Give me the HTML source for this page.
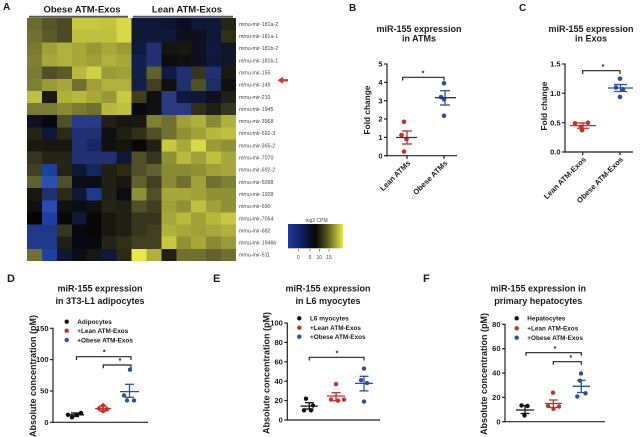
<!DOCTYPE html>
<html><head><meta charset="utf-8"><style>
html,body{margin:0;padding:0;background:#fff;}
svg{display:block;font-family:"Liberation Sans",Arial,sans-serif;}
.t{font-weight:bold;fill:#1a1a1a;}
</style></head><body>
<svg width="640" height="437" viewBox="0 0 640 437" xmlns="http://www.w3.org/2000/svg">
<defs>
<linearGradient id="cb" x1="0" x2="1" y1="0" y2="0">
<stop offset="0" stop-color="#1e3c9c"/><stop offset="0.28" stop-color="#0f1c55"/><stop offset="0.5" stop-color="#050505"/><stop offset="0.72" stop-color="#5a5a22"/><stop offset="1" stop-color="#e8e842"/>
</linearGradient>
</defs>
<!-- Panel A -->
<text x="3" y="10" class="t" font-size="10">A</text>
<text x="82" y="12.5" class="t" font-size="9.5" text-anchor="middle">Obese ATM-Exos</text>
<text x="187" y="12.5" class="t" font-size="9.5" text-anchor="middle">Lean ATM-Exos</text>
<line x1="29" y1="16.7" x2="128" y2="16.7" stroke="#555" stroke-width="2"/>
<line x1="133" y1="16.7" x2="233" y2="16.7" stroke="#556" stroke-width="2"/>
<svg x="27" y="18" width="209" height="243" viewBox="0 0 14 20" preserveAspectRatio="none" shape-rendering="crispEdges">
<g transform="translate(0,0)"><rect x="0" width="1.02" height="1.02" fill="#6b6b30"/><rect x="1" width="1.02" height="1.02" fill="#55552a"/><rect x="2" width="1.02" height="1.02" fill="#4a4a25"/><rect x="3" width="1.02" height="1.02" fill="#c8c840"/><rect x="4" width="1.02" height="1.02" fill="#c8c840"/><rect x="5" width="1.02" height="1.02" fill="#c4c440"/><rect x="6" width="1.02" height="1.02" fill="#d8d848"/><rect x="7" width="1.02" height="1.02" fill="#101838"/><rect x="8" width="1.02" height="1.02" fill="#101838"/><rect x="9" width="1.02" height="1.02" fill="#0e1430"/><rect x="10" width="1.02" height="1.02" fill="#0c0c20"/><rect x="11" width="1.02" height="1.02" fill="#101838"/><rect x="12" width="1.02" height="1.02" fill="#101838"/><rect x="13" width="1.02" height="1.02" fill="#252515"/></g>
<g transform="translate(0,1)"><rect x="0" width="1.02" height="1.02" fill="#707030"/><rect x="1" width="1.02" height="1.02" fill="#5a5a2a"/><rect x="2" width="1.02" height="1.02" fill="#4a4a25"/><rect x="3" width="1.02" height="1.02" fill="#c0c040"/><rect x="4" width="1.02" height="1.02" fill="#c0c040"/><rect x="5" width="1.02" height="1.02" fill="#c0c040"/><rect x="6" width="1.02" height="1.02" fill="#d8d848"/><rect x="7" width="1.02" height="1.02" fill="#101838"/><rect x="8" width="1.02" height="1.02" fill="#101838"/><rect x="9" width="1.02" height="1.02" fill="#101838"/><rect x="10" width="1.02" height="1.02" fill="#0e1020"/><rect x="11" width="1.02" height="1.02" fill="#101020"/><rect x="12" width="1.02" height="1.02" fill="#101838"/><rect x="13" width="1.02" height="1.02" fill="#303018"/></g>
<g transform="translate(0,2)"><rect x="0" width="1.02" height="1.02" fill="#7a7a35"/><rect x="1" width="1.02" height="1.02" fill="#a0a038"/><rect x="2" width="1.02" height="1.02" fill="#b0b03c"/><rect x="3" width="1.02" height="1.02" fill="#a8a838"/><rect x="4" width="1.02" height="1.02" fill="#989835"/><rect x="5" width="1.02" height="1.02" fill="#a8a83a"/><rect x="6" width="1.02" height="1.02" fill="#9a9a35"/><rect x="7" width="1.02" height="1.02" fill="#101a40"/><rect x="8" width="1.02" height="1.02" fill="#203070"/><rect x="9" width="1.02" height="1.02" fill="#151510"/><rect x="10" width="1.02" height="1.02" fill="#181810"/><rect x="11" width="1.02" height="1.02" fill="#101020"/><rect x="12" width="1.02" height="1.02" fill="#101840"/><rect x="13" width="1.02" height="1.02" fill="#101828"/></g>
<g transform="translate(0,3)"><rect x="0" width="1.02" height="1.02" fill="#808035"/><rect x="1" width="1.02" height="1.02" fill="#a8a83a"/><rect x="2" width="1.02" height="1.02" fill="#b0b03c"/><rect x="3" width="1.02" height="1.02" fill="#a8a83a"/><rect x="4" width="1.02" height="1.02" fill="#a0a038"/><rect x="5" width="1.02" height="1.02" fill="#b0b03c"/><rect x="6" width="1.02" height="1.02" fill="#a8a83a"/><rect x="7" width="1.02" height="1.02" fill="#102050"/><rect x="8" width="1.02" height="1.02" fill="#203070"/><rect x="9" width="1.02" height="1.02" fill="#0c0c0c"/><rect x="10" width="1.02" height="1.02" fill="#101010"/><rect x="11" width="1.02" height="1.02" fill="#101020"/><rect x="12" width="1.02" height="1.02" fill="#101838"/><rect x="13" width="1.02" height="1.02" fill="#101828"/></g>
<g transform="translate(0,4)"><rect x="0" width="1.02" height="1.02" fill="#7a7a35"/><rect x="1" width="1.02" height="1.02" fill="#505028"/><rect x="2" width="1.02" height="1.02" fill="#5a5a2a"/><rect x="3" width="1.02" height="1.02" fill="#b8b83c"/><rect x="4" width="1.02" height="1.02" fill="#d0d045"/><rect x="5" width="1.02" height="1.02" fill="#9a9a38"/><rect x="6" width="1.02" height="1.02" fill="#a0a038"/><rect x="7" width="1.02" height="1.02" fill="#152045"/><rect x="8" width="1.02" height="1.02" fill="#606030"/><rect x="9" width="1.02" height="1.02" fill="#101a48"/><rect x="10" width="1.02" height="1.02" fill="#203070"/><rect x="11" width="1.02" height="1.02" fill="#353520"/><rect x="12" width="1.02" height="1.02" fill="#203070"/><rect x="13" width="1.02" height="1.02" fill="#1a1a10"/></g>
<g transform="translate(0,5)"><rect x="0" width="1.02" height="1.02" fill="#808035"/><rect x="1" width="1.02" height="1.02" fill="#9a9a38"/><rect x="2" width="1.02" height="1.02" fill="#a8a83a"/><rect x="3" width="1.02" height="1.02" fill="#707030"/><rect x="4" width="1.02" height="1.02" fill="#a0a038"/><rect x="5" width="1.02" height="1.02" fill="#b0b03c"/><rect x="6" width="1.02" height="1.02" fill="#b0b03c"/><rect x="7" width="1.02" height="1.02" fill="#152048"/><rect x="8" width="1.02" height="1.02" fill="#404020"/><rect x="9" width="1.02" height="1.02" fill="#101010"/><rect x="10" width="1.02" height="1.02" fill="#203068"/><rect x="11" width="1.02" height="1.02" fill="#505028"/><rect x="12" width="1.02" height="1.02" fill="#202d60"/><rect x="13" width="1.02" height="1.02" fill="#101010"/></g>
<g transform="translate(0,6)"><rect x="0" width="1.02" height="1.02" fill="#c0c040"/><rect x="1" width="1.02" height="1.02" fill="#1a1a10"/><rect x="2" width="1.02" height="1.02" fill="#b0b03c"/><rect x="3" width="1.02" height="1.02" fill="#b8b83c"/><rect x="4" width="1.02" height="1.02" fill="#a8a83a"/><rect x="5" width="1.02" height="1.02" fill="#989835"/><rect x="6" width="1.02" height="1.02" fill="#c8c842"/><rect x="7" width="1.02" height="1.02" fill="#404020"/><rect x="8" width="1.02" height="1.02" fill="#101010"/><rect x="9" width="1.02" height="1.02" fill="#2a3a80"/><rect x="10" width="1.02" height="1.02" fill="#101840"/><rect x="11" width="1.02" height="1.02" fill="#101838"/><rect x="12" width="1.02" height="1.02" fill="#101020"/><rect x="13" width="1.02" height="1.02" fill="#202015"/></g>
<g transform="translate(0,7)"><rect x="0" width="1.02" height="1.02" fill="#7a7a35"/><rect x="1" width="1.02" height="1.02" fill="#7a7a35"/><rect x="2" width="1.02" height="1.02" fill="#8a8a35"/><rect x="3" width="1.02" height="1.02" fill="#7a7a35"/><rect x="4" width="1.02" height="1.02" fill="#707030"/><rect x="5" width="1.02" height="1.02" fill="#b8b83c"/><rect x="6" width="1.02" height="1.02" fill="#c0c040"/><rect x="7" width="1.02" height="1.02" fill="#080810"/><rect x="8" width="1.02" height="1.02" fill="#101010"/><rect x="9" width="1.02" height="1.02" fill="#2a3a80"/><rect x="10" width="1.02" height="1.02" fill="#2a3a80"/><rect x="11" width="1.02" height="1.02" fill="#303018"/><rect x="12" width="1.02" height="1.02" fill="#202015"/><rect x="13" width="1.02" height="1.02" fill="#353520"/></g>
<g transform="translate(0,8)"><rect x="0" width="1.02" height="1.02" fill="#101020"/><rect x="1" width="1.02" height="1.02" fill="#080810"/><rect x="2" width="1.02" height="1.02" fill="#505028"/><rect x="3" width="1.02" height="1.02" fill="#2a3a88"/><rect x="4" width="1.02" height="1.02" fill="#2a3a88"/><rect x="5" width="1.02" height="1.02" fill="#202015"/><rect x="6" width="1.02" height="1.02" fill="#181810"/><rect x="7" width="1.02" height="1.02" fill="#181810"/><rect x="8" width="1.02" height="1.02" fill="#808035"/><rect x="9" width="1.02" height="1.02" fill="#707030"/><rect x="10" width="1.02" height="1.02" fill="#a0a038"/><rect x="11" width="1.02" height="1.02" fill="#b0b03c"/><rect x="12" width="1.02" height="1.02" fill="#8a8a35"/><rect x="13" width="1.02" height="1.02" fill="#b0b03c"/></g>
<g transform="translate(0,9)"><rect x="0" width="1.02" height="1.02" fill="#252515"/><rect x="1" width="1.02" height="1.02" fill="#101838"/><rect x="2" width="1.02" height="1.02" fill="#2a2a15"/><rect x="3" width="1.02" height="1.02" fill="#203078"/><rect x="4" width="1.02" height="1.02" fill="#203070"/><rect x="5" width="1.02" height="1.02" fill="#101010"/><rect x="6" width="1.02" height="1.02" fill="#202015"/><rect x="7" width="1.02" height="1.02" fill="#303018"/><rect x="8" width="1.02" height="1.02" fill="#505028"/><rect x="9" width="1.02" height="1.02" fill="#707030"/><rect x="10" width="1.02" height="1.02" fill="#909035"/><rect x="11" width="1.02" height="1.02" fill="#a0a038"/><rect x="12" width="1.02" height="1.02" fill="#b8b83c"/><rect x="13" width="1.02" height="1.02" fill="#c0c040"/></g>
<g transform="translate(0,10)"><rect x="0" width="1.02" height="1.02" fill="#1a1a10"/><rect x="1" width="1.02" height="1.02" fill="#181810"/><rect x="2" width="1.02" height="1.02" fill="#181810"/><rect x="3" width="1.02" height="1.02" fill="#203070"/><rect x="4" width="1.02" height="1.02" fill="#182860"/><rect x="5" width="1.02" height="1.02" fill="#101010"/><rect x="6" width="1.02" height="1.02" fill="#151510"/><rect x="7" width="1.02" height="1.02" fill="#080808"/><rect x="8" width="1.02" height="1.02" fill="#202015"/><rect x="9" width="1.02" height="1.02" fill="#c8c840"/><rect x="10" width="1.02" height="1.02" fill="#a8a83a"/><rect x="11" width="1.02" height="1.02" fill="#d8d848"/><rect x="12" width="1.02" height="1.02" fill="#9a9a38"/><rect x="13" width="1.02" height="1.02" fill="#909035"/></g>
<g transform="translate(0,11)"><rect x="0" width="1.02" height="1.02" fill="#353520"/><rect x="1" width="1.02" height="1.02" fill="#252515"/><rect x="2" width="1.02" height="1.02" fill="#252515"/><rect x="3" width="1.02" height="1.02" fill="#203070"/><rect x="4" width="1.02" height="1.02" fill="#203070"/><rect x="5" width="1.02" height="1.02" fill="#203070"/><rect x="6" width="1.02" height="1.02" fill="#101838"/><rect x="7" width="1.02" height="1.02" fill="#505028"/><rect x="8" width="1.02" height="1.02" fill="#353520"/><rect x="9" width="1.02" height="1.02" fill="#909035"/><rect x="10" width="1.02" height="1.02" fill="#b8b83c"/><rect x="11" width="1.02" height="1.02" fill="#a0a038"/><rect x="12" width="1.02" height="1.02" fill="#c0c040"/><rect x="13" width="1.02" height="1.02" fill="#a8a83a"/></g>
<g transform="translate(0,12)"><rect x="0" width="1.02" height="1.02" fill="#404020"/><rect x="1" width="1.02" height="1.02" fill="#2040a0"/><rect x="2" width="1.02" height="1.02" fill="#252515"/><rect x="3" width="1.02" height="1.02" fill="#101838"/><rect x="4" width="1.02" height="1.02" fill="#152560"/><rect x="5" width="1.02" height="1.02" fill="#202015"/><rect x="6" width="1.02" height="1.02" fill="#2a2a15"/><rect x="7" width="1.02" height="1.02" fill="#505028"/><rect x="8" width="1.02" height="1.02" fill="#606030"/><rect x="9" width="1.02" height="1.02" fill="#8a8a35"/><rect x="10" width="1.02" height="1.02" fill="#8a8a35"/><rect x="11" width="1.02" height="1.02" fill="#909035"/><rect x="12" width="1.02" height="1.02" fill="#a0a038"/><rect x="13" width="1.02" height="1.02" fill="#a8a83a"/></g>
<g transform="translate(0,13)"><rect x="0" width="1.02" height="1.02" fill="#606030"/><rect x="1" width="1.02" height="1.02" fill="#2a50b0"/><rect x="2" width="1.02" height="1.02" fill="#505028"/><rect x="3" width="1.02" height="1.02" fill="#0c0c14"/><rect x="4" width="1.02" height="1.02" fill="#0c0c14"/><rect x="5" width="1.02" height="1.02" fill="#202015"/><rect x="6" width="1.02" height="1.02" fill="#181810"/><rect x="7" width="1.02" height="1.02" fill="#606030"/><rect x="8" width="1.02" height="1.02" fill="#404020"/><rect x="9" width="1.02" height="1.02" fill="#8a8a35"/><rect x="10" width="1.02" height="1.02" fill="#707030"/><rect x="11" width="1.02" height="1.02" fill="#a0a038"/><rect x="12" width="1.02" height="1.02" fill="#707030"/><rect x="13" width="1.02" height="1.02" fill="#808035"/></g>
<g transform="translate(0,14)"><rect x="0" width="1.02" height="1.02" fill="#181810"/><rect x="1" width="1.02" height="1.02" fill="#203070"/><rect x="2" width="1.02" height="1.02" fill="#2a2a15"/><rect x="3" width="1.02" height="1.02" fill="#101838"/><rect x="4" width="1.02" height="1.02" fill="#203888"/><rect x="5" width="1.02" height="1.02" fill="#202015"/><rect x="6" width="1.02" height="1.02" fill="#0c0c14"/><rect x="7" width="1.02" height="1.02" fill="#909035"/><rect x="8" width="1.02" height="1.02" fill="#505028"/><rect x="9" width="1.02" height="1.02" fill="#a8a83a"/><rect x="10" width="1.02" height="1.02" fill="#a8a83a"/><rect x="11" width="1.02" height="1.02" fill="#a0a038"/><rect x="12" width="1.02" height="1.02" fill="#909035"/><rect x="13" width="1.02" height="1.02" fill="#909035"/></g>
<g transform="translate(0,15)"><rect x="0" width="1.02" height="1.02" fill="#101010"/><rect x="1" width="1.02" height="1.02" fill="#2a4ab0"/><rect x="2" width="1.02" height="1.02" fill="#101010"/><rect x="3" width="1.02" height="1.02" fill="#0c0c14"/><rect x="4" width="1.02" height="1.02" fill="#101010"/><rect x="5" width="1.02" height="1.02" fill="#252515"/><rect x="6" width="1.02" height="1.02" fill="#202015"/><rect x="7" width="1.02" height="1.02" fill="#505028"/><rect x="8" width="1.02" height="1.02" fill="#404020"/><rect x="9" width="1.02" height="1.02" fill="#a0a038"/><rect x="10" width="1.02" height="1.02" fill="#909035"/><rect x="11" width="1.02" height="1.02" fill="#c0c040"/><rect x="12" width="1.02" height="1.02" fill="#a0a038"/><rect x="13" width="1.02" height="1.02" fill="#909035"/></g>
<g transform="translate(0,16)"><rect x="0" width="1.02" height="1.02" fill="#050505"/><rect x="1" width="1.02" height="1.02" fill="#2040a0"/><rect x="2" width="1.02" height="1.02" fill="#080808"/><rect x="3" width="1.02" height="1.02" fill="#101838"/><rect x="4" width="1.02" height="1.02" fill="#080808"/><rect x="5" width="1.02" height="1.02" fill="#181810"/><rect x="6" width="1.02" height="1.02" fill="#202015"/><rect x="7" width="1.02" height="1.02" fill="#353520"/><rect x="8" width="1.02" height="1.02" fill="#353520"/><rect x="9" width="1.02" height="1.02" fill="#a8a83a"/><rect x="10" width="1.02" height="1.02" fill="#b8b83c"/><rect x="11" width="1.02" height="1.02" fill="#a0a038"/><rect x="12" width="1.02" height="1.02" fill="#b8b83c"/><rect x="13" width="1.02" height="1.02" fill="#c8c842"/></g>
<g transform="translate(0,17)"><rect x="0" width="1.02" height="1.02" fill="#203888"/><rect x="1" width="1.02" height="1.02" fill="#203888"/><rect x="2" width="1.02" height="1.02" fill="#353520"/><rect x="3" width="1.02" height="1.02" fill="#080810"/><rect x="4" width="1.02" height="1.02" fill="#080808"/><rect x="5" width="1.02" height="1.02" fill="#181810"/><rect x="6" width="1.02" height="1.02" fill="#202015"/><rect x="7" width="1.02" height="1.02" fill="#353520"/><rect x="8" width="1.02" height="1.02" fill="#404020"/><rect x="9" width="1.02" height="1.02" fill="#b0b03c"/><rect x="10" width="1.02" height="1.02" fill="#a8a83a"/><rect x="11" width="1.02" height="1.02" fill="#a0a038"/><rect x="12" width="1.02" height="1.02" fill="#a8a83a"/><rect x="13" width="1.02" height="1.02" fill="#b0b03c"/></g>
<g transform="translate(0,18)"><rect x="0" width="1.02" height="1.02" fill="#203888"/><rect x="1" width="1.02" height="1.02" fill="#203888"/><rect x="2" width="1.02" height="1.02" fill="#202015"/><rect x="3" width="1.02" height="1.02" fill="#080810"/><rect x="4" width="1.02" height="1.02" fill="#080810"/><rect x="5" width="1.02" height="1.02" fill="#252515"/><rect x="6" width="1.02" height="1.02" fill="#303018"/><rect x="7" width="1.02" height="1.02" fill="#404020"/><rect x="8" width="1.02" height="1.02" fill="#404020"/><rect x="9" width="1.02" height="1.02" fill="#c8c840"/><rect x="10" width="1.02" height="1.02" fill="#909035"/><rect x="11" width="1.02" height="1.02" fill="#a8a83a"/><rect x="12" width="1.02" height="1.02" fill="#8a8a35"/><rect x="13" width="1.02" height="1.02" fill="#9a9a38"/></g>
<g transform="translate(0,19)"><rect x="0" width="1.02" height="1.02" fill="#707030"/><rect x="1" width="1.02" height="1.02" fill="#2040a0"/><rect x="2" width="1.02" height="1.02" fill="#101838"/><rect x="3" width="1.02" height="1.02" fill="#0c0c14"/><rect x="4" width="1.02" height="1.02" fill="#181810"/><rect x="5" width="1.02" height="1.02" fill="#101838"/><rect x="6" width="1.02" height="1.02" fill="#2a2a15"/><rect x="7" width="1.02" height="1.02" fill="#e8e848"/><rect x="8" width="1.02" height="1.02" fill="#b0b03c"/><rect x="9" width="1.02" height="1.02" fill="#202015"/><rect x="10" width="1.02" height="1.02" fill="#707030"/><rect x="11" width="1.02" height="1.02" fill="#707030"/><rect x="12" width="1.02" height="1.02" fill="#606030"/><rect x="13" width="1.02" height="1.02" fill="#707030"/></g>
</svg>
<g font-size="5.3" fill="#444">
<text x="239" y="25.9">mmu-mir-181a-2</text>
<text x="239" y="38.0">mmu-mir-181a-1</text>
<text x="239" y="50.2">mmu-mir-181b-2</text>
<text x="239" y="62.3">mmu-mir-181b-1</text>
<text x="239" y="74.5">mmu-mir-155</text>
<text x="239" y="86.6">mmu-mir-149</text>
<text x="239" y="98.8">mmu-mir-210</text>
<text x="239" y="110.9">mmu-mir-1945</text>
<text x="239" y="123.1">mmu-mir-3968</text>
<text x="239" y="135.2">mmu-mir-692-3</text>
<text x="239" y="147.4">mmu-mir-365-2</text>
<text x="239" y="159.5">mmu-mir-7070</text>
<text x="239" y="171.7">mmu-mir-692-2</text>
<text x="239" y="183.8">mmu-mir-5098</text>
<text x="239" y="196.0">mmu-mir-1928</text>
<text x="239" y="208.1">mmu-mir-690</text>
<text x="239" y="220.3">mmu-mir-7054</text>
<text x="239" y="232.4">mmu-mir-682</text>
<text x="239" y="244.6">mmu-mir-1946b</text>
<text x="239" y="256.7">mmu-mir-511</text>
</g>
<polygon points="277.5,80.3 283,76.8 283,83.8" fill="#d63a30"/>
<rect x="282.5" y="79.1" width="5.5" height="2.4" fill="#d63a30"/>
<!-- colorbar -->
<rect x="288" y="224" width="55" height="24.3" fill="url(#cb)"/>
<text x="316.7" y="222" font-size="5" fill="#444" text-anchor="middle">log2 CPM</text>
<g stroke="#444" stroke-width="0.6"><line x1="298.3" y1="249" x2="298.3" y2="251.5"/><line x1="310" y1="249" x2="310" y2="251.5"/><line x1="319.3" y1="249" x2="319.3" y2="251.5"/><line x1="329" y1="249" x2="329" y2="251.5"/></g>
<g font-size="5" fill="#444" text-anchor="middle"><text x="298.3" y="259">0</text><text x="310" y="259">5</text><text x="319.3" y="259">10</text><text x="329" y="259">15</text></g>

<!-- Panel B -->
<text x="349" y="11" class="t" font-size="10">B</text>
<text x="419" y="32" class="t" font-size="9" text-anchor="middle">miR-155 expression</text>
<text x="419" y="41.5" class="t" font-size="9" text-anchor="middle">in ATMs</text>
<g stroke="#222" stroke-width="1.2" fill="none">
<line x1="387" y1="63.5" x2="387" y2="156.3"/><line x1="386.4" y1="155.7" x2="457" y2="155.7"/>
<line x1="384" y1="64" x2="387" y2="64"/><line x1="384" y1="82.4" x2="387" y2="82.4"/><line x1="384" y1="100.7" x2="387" y2="100.7"/><line x1="384" y1="119" x2="387" y2="119"/><line x1="384" y1="137.4" x2="387" y2="137.4"/><line x1="384" y1="155.7" x2="387" y2="155.7"/>
<line x1="407" y1="155.7" x2="407" y2="159"/><line x1="444" y1="155.7" x2="444" y2="159"/>
<polyline points="402.7,80.5 402.7,77.3 444,77.3 444,80.5"/>
</g>
<g class="t" font-size="7.5" text-anchor="end"><text x="382.5" y="66.6">5</text><text x="382.5" y="85">4</text><text x="382.5" y="103.3">3</text><text x="382.5" y="121.6">2</text><text x="382.5" y="140">1</text><text x="382.5" y="158.3">0</text></g>
<text class="t" font-size="8.3" text-anchor="middle" transform="translate(370,110) rotate(-90)">Fold change</text>
<text x="423" y="75.5" class="t" font-size="7" text-anchor="middle">*</text>
<text class="t" font-size="7.6" text-anchor="end" transform="translate(411,163.5) rotate(-45)">Lean ATMs</text>
<text class="t" font-size="7.6" text-anchor="end" transform="translate(448,163.5) rotate(-45)">Obese ATMs</text>
<g fill="#c4302b"><circle cx="404" cy="121.8" r="2.3"/><circle cx="401.5" cy="135" r="2.3"/><circle cx="406.5" cy="139" r="2.3"/><circle cx="404" cy="151.5" r="2.3"/></g>
<g stroke="#c4302b" stroke-width="1.3"><line x1="407" y1="131" x2="407" y2="144"/><line x1="402" y1="131" x2="412" y2="131"/><line x1="402" y1="144" x2="412" y2="144"/></g>
<line x1="396" y1="137.5" x2="417" y2="137.5" stroke="#333" stroke-width="1.3"/>
<g fill="#2d4f9c"><circle cx="444" cy="83.3" r="2.3"/><circle cx="444" cy="99.3" r="2.3"/><circle cx="441" cy="97" r="2.3"/><circle cx="444" cy="115.7" r="2.3"/></g>
<g stroke="#2d4f9c" stroke-width="1.3"><line x1="445" y1="90.7" x2="445" y2="105"/><line x1="440" y1="90.7" x2="450" y2="90.7"/><line x1="440" y1="105" x2="450" y2="105"/></g>
<line x1="435" y1="97.7" x2="456" y2="97.7" stroke="#2a3558" stroke-width="1.3"/>

<!-- Panel C -->
<text x="519" y="11" class="t" font-size="10">C</text>
<text x="591" y="32" class="t" font-size="9" text-anchor="middle">miR-155 expression</text>
<text x="591" y="41.5" class="t" font-size="9" text-anchor="middle">in Exos</text>
<g stroke="#222" stroke-width="1.2" fill="none">
<line x1="565" y1="63.5" x2="565" y2="152.6"/><line x1="564.4" y1="152" x2="633" y2="152"/>
<line x1="562" y1="64" x2="565" y2="64"/><line x1="562" y1="93.3" x2="565" y2="93.3"/><line x1="562" y1="122.7" x2="565" y2="122.7"/><line x1="562" y1="152" x2="565" y2="152"/>
<line x1="582.7" y1="152" x2="582.7" y2="155.3"/><line x1="620" y1="152" x2="620" y2="155.3"/>
<polyline points="582.7,74 582.7,70.7 620,70.7 620,74"/>
</g>
<g class="t" font-size="7.5" text-anchor="end"><text x="560.5" y="66.6">1.5</text><text x="560.5" y="95.9">1.0</text><text x="560.5" y="125.3">0.5</text><text x="560.5" y="154.6">0.0</text></g>
<text class="t" font-size="8.3" text-anchor="middle" transform="translate(547,106) rotate(-90)">Fold change</text>
<text x="603" y="69" class="t" font-size="7" text-anchor="middle">*</text>
<text class="t" font-size="7.6" text-anchor="end" transform="translate(586.5,160) rotate(-45)">Lean ATM-Exos</text>
<text class="t" font-size="7.6" text-anchor="end" transform="translate(623.5,160) rotate(-45)">Obese ATM-Exos</text>
<g fill="#c4302b"><circle cx="575" cy="123.3" r="2.3"/><circle cx="581" cy="126.8" r="2.3"/><circle cx="588" cy="122.7" r="2.3"/><circle cx="582" cy="130.3" r="2.3"/></g>
<g stroke="#c4302b" stroke-width="1.3"><line x1="570" y1="125.6" x2="596" y2="125.6"/><line x1="583" y1="123" x2="583" y2="128.3"/><line x1="577" y1="123" x2="589" y2="123"/><line x1="577" y1="128.3" x2="589" y2="128.3"/></g>
<g fill="#2d4f9c"><circle cx="620" cy="78.7" r="2.3"/><circle cx="616" cy="87.5" r="2.3"/><circle cx="623" cy="89.2" r="2.3"/><circle cx="620" cy="96.9" r="2.3"/></g>
<g stroke="#2d4f9c" stroke-width="1.3"><line x1="608" y1="88" x2="633" y2="88"/><line x1="620.5" y1="84.5" x2="620.5" y2="91.5"/><line x1="614" y1="84.5" x2="627" y2="84.5"/><line x1="614" y1="91.5" x2="627" y2="91.5"/></g>

<!-- Panel D -->
<text x="7" y="282" class="t" font-size="11">D</text>
<text x="100" y="291.5" class="t" font-size="9" text-anchor="middle">miR-155 expression</text>
<text x="100" y="304" class="t" font-size="9" text-anchor="middle">in 3T3-L1 adipocytes</text>
<g stroke="#222" stroke-width="1.2" fill="none">
<line x1="53" y1="327.8" x2="53" y2="422.9"/><line x1="52.4" y1="422.3" x2="148" y2="422.3"/>
<line x1="50" y1="328.3" x2="53" y2="328.3"/><line x1="50" y1="359.6" x2="53" y2="359.6"/><line x1="50" y1="391" x2="53" y2="391"/><line x1="50" y1="422.3" x2="53" y2="422.3"/>
<polyline points="76.5,360 76.5,356.7 131,356.7 131,360"/>
<polyline points="103.3,368.3 103.3,365 131,365 131,368.3"/>
</g>
<g class="t" font-size="7.5" text-anchor="end"><text x="48.5" y="330.9">150</text><text x="48.5" y="362.2">100</text><text x="48.5" y="393.6">50</text><text x="48.5" y="424.9">0</text></g>
<text class="t" font-size="9" text-anchor="middle" transform="translate(36,376) rotate(-90)">Absolute concentration (pM)</text>
<text x="104.3" y="354.5" class="t" font-size="7" text-anchor="middle">*</text>
<text x="120" y="363.2" class="t" font-size="7" text-anchor="middle">*</text>
<circle cx="66.7" cy="321.7" r="2.2" fill="#111"/><circle cx="66.7" cy="330.7" r="2.2" fill="#c4302b"/><circle cx="66.7" cy="340" r="2.2" fill="#2d4f9c"/>
<g class="t" font-size="6.4"><text x="77.3" y="324">Adipocytes</text><text x="77.3" y="333">+Lean ATM-Exos</text><text x="77.3" y="342.3">+Obese ATM-Exos</text></g>
<g fill="#111"><circle cx="68" cy="414.8" r="2.2"/><circle cx="72" cy="417.3" r="2.2"/><circle cx="77" cy="414.8" r="2.2"/><circle cx="81" cy="412.9" r="2.2"/></g>
<g stroke="#111" stroke-width="1.3"><line x1="66" y1="414.8" x2="84" y2="414.8"/><line x1="75" y1="413" x2="75" y2="416.5"/><line x1="71" y1="413" x2="79" y2="413"/><line x1="71" y1="416.5" x2="79" y2="416.5"/></g>
<g fill="#c4302b"><circle cx="103" cy="405.4" r="2.2"/><circle cx="99" cy="408.5" r="2.2"/><circle cx="107" cy="409.2" r="2.2"/><circle cx="103" cy="411" r="2.2"/></g>
<g stroke="#c4302b" stroke-width="1.3"><line x1="95" y1="408.5" x2="111" y2="408.5"/><line x1="103" y1="406" x2="103" y2="411"/><line x1="99" y1="406" x2="107" y2="406"/><line x1="99" y1="411" x2="107" y2="411"/></g>
<g fill="#2d4f9c"><circle cx="130" cy="369.7" r="2.2"/><circle cx="124" cy="395.4" r="2.2"/><circle cx="127" cy="400.4" r="2.2"/><circle cx="134" cy="400.4" r="2.2"/></g>
<g stroke="#2d4f9c" stroke-width="1.3"><line x1="120" y1="391.6" x2="139" y2="391.6"/><line x1="129.5" y1="384.3" x2="129.5" y2="397.3"/><line x1="125" y1="384.3" x2="134" y2="384.3"/><line x1="125" y1="397.3" x2="134" y2="397.3"/></g>

<!-- Panel E -->
<text x="213" y="282" class="t" font-size="11">E</text>
<text x="328" y="291.5" class="t" font-size="9" text-anchor="middle">miR-155 expression</text>
<text x="328" y="304" class="t" font-size="9" text-anchor="middle">in L6 myocytes</text>
<g stroke="#222" stroke-width="1.2" fill="none">
<line x1="287.3" y1="322.8" x2="287.3" y2="420.6"/><line x1="286.7" y1="420" x2="380" y2="420"/>
<line x1="284.3" y1="323" x2="287.3" y2="323"/><line x1="284.3" y1="342.4" x2="287.3" y2="342.4"/><line x1="284.3" y1="361.8" x2="287.3" y2="361.8"/><line x1="284.3" y1="381.2" x2="287.3" y2="381.2"/><line x1="284.3" y1="400.6" x2="287.3" y2="400.6"/><line x1="284.3" y1="420" x2="287.3" y2="420"/>
<polyline points="309.3,360.5 309.3,357.3 364,357.3 364,360.5"/>
</g>
<g class="t" font-size="7.5" text-anchor="end"><text x="282.8" y="325.6">100</text><text x="282.8" y="345">80</text><text x="282.8" y="364.4">60</text><text x="282.8" y="383.8">40</text><text x="282.8" y="403.2">20</text><text x="282.8" y="422.6">0</text></g>
<text class="t" font-size="9" text-anchor="middle" transform="translate(269.5,373) rotate(-90)">Absolute concentration (pM)</text>
<text x="337" y="355.5" class="t" font-size="7" text-anchor="middle">*</text>
<circle cx="299.3" cy="318.3" r="2.2" fill="#111"/><circle cx="299.3" cy="327.7" r="2.2" fill="#c4302b"/><circle cx="299.3" cy="336.7" r="2.2" fill="#2d4f9c"/>
<g class="t" font-size="6.4"><text x="310" y="320.6">L6 myocytes</text><text x="310" y="330">+Lean ATM-Exos</text><text x="310" y="339">+Obese ATM-Exos</text></g>
<g fill="#111"><circle cx="306" cy="398.7" r="2.2"/><circle cx="313" cy="405.5" r="2.2"/><circle cx="304" cy="410.3" r="2.2"/><circle cx="311" cy="410.3" r="2.2"/></g>
<g stroke="#111" stroke-width="1.3"><line x1="300.5" y1="406.1" x2="318" y2="406.1"/><line x1="309.3" y1="402.7" x2="309.3" y2="409"/><line x1="305" y1="402.7" x2="313.6" y2="402.7"/><line x1="305" y1="409" x2="313.6" y2="409"/></g>
<g fill="#c4302b"><circle cx="336" cy="384.1" r="2.2"/><circle cx="331" cy="399.6" r="2.2"/><circle cx="338" cy="400.6" r="2.2"/><circle cx="344" cy="399.6" r="2.2"/></g>
<g stroke="#c4302b" stroke-width="1.3"><line x1="327" y1="396" x2="345" y2="396"/><line x1="336" y1="392.7" x2="336" y2="400.7"/><line x1="331.5" y1="392.7" x2="340.5" y2="392.7"/><line x1="331.5" y1="400.7" x2="340.5" y2="400.7"/></g>
<g fill="#2d4f9c"><circle cx="364" cy="368.6" r="2.2"/><circle cx="361" cy="380.2" r="2.2"/><circle cx="367" cy="383.1" r="2.2"/><circle cx="364" cy="401.6" r="2.2"/></g>
<g stroke="#2d4f9c" stroke-width="1.3"><line x1="355" y1="383.4" x2="373" y2="383.4"/><line x1="364" y1="376.3" x2="364" y2="390.9"/><line x1="359.5" y1="376.3" x2="368.5" y2="376.3"/><line x1="359.5" y1="390.9" x2="368.5" y2="390.9"/></g>

<!-- Panel F -->
<text x="423" y="282" class="t" font-size="11">F</text>
<text x="538.3" y="291.5" class="t" font-size="9" text-anchor="middle">miR-155 expression in</text>
<text x="538.3" y="304" class="t" font-size="9" text-anchor="middle">primary hepatocytes</text>
<g stroke="#222" stroke-width="1.2" fill="none">
<line x1="505" y1="323.8" x2="505" y2="422.3"/><line x1="504.4" y1="421.7" x2="605" y2="421.7"/>
<line x1="502" y1="324.3" x2="505" y2="324.3"/><line x1="502" y1="348.6" x2="505" y2="348.6"/><line x1="502" y1="373" x2="505" y2="373"/><line x1="502" y1="397.3" x2="505" y2="397.3"/><line x1="502" y1="421.7" x2="505" y2="421.7"/>
<polyline points="526,355.8 526,352.7 581.3,352.7 581.3,355.8"/>
<polyline points="553.3,364.8 553.3,361.7 581.3,361.7 581.3,364.8"/>
</g>
<g class="t" font-size="7.5" text-anchor="end"><text x="500.5" y="326.9">80</text><text x="500.5" y="351.2">60</text><text x="500.5" y="375.6">40</text><text x="500.5" y="399.9">20</text><text x="500.5" y="424.3">0</text></g>
<text class="t" font-size="9" text-anchor="middle" transform="translate(487,374) rotate(-90)">Absolute concentration (pM)</text>
<text x="555" y="350.8" class="t" font-size="7" text-anchor="middle">*</text>
<text x="570.7" y="359.8" class="t" font-size="7" text-anchor="middle">*</text>
<circle cx="516.7" cy="318.3" r="2.2" fill="#111"/><circle cx="516.7" cy="328.3" r="2.2" fill="#c4302b"/><circle cx="516.7" cy="337.7" r="2.2" fill="#2d4f9c"/>
<g class="t" font-size="6.4"><text x="527.3" y="320.6">Hepatocytes</text><text x="527.3" y="330.6">+Lean ATM-Exos</text><text x="527.3" y="340">+Obese ATM-Exos</text></g>
<g fill="#111"><circle cx="521.5" cy="405.5" r="2.2"/><circle cx="527.5" cy="406" r="2.2"/><circle cx="524.5" cy="415.5" r="2.2"/></g>
<g stroke="#111" stroke-width="1.3"><line x1="516" y1="410" x2="534" y2="410"/><line x1="525" y1="405.5" x2="525" y2="413.5"/><line x1="520.5" y1="405.5" x2="529.5" y2="405.5"/><line x1="520.5" y1="413.5" x2="529.5" y2="413.5"/></g>
<g fill="#c4302b"><circle cx="553" cy="392.7" r="2.2"/><circle cx="548" cy="405.9" r="2.2"/><circle cx="553.5" cy="408.8" r="2.2"/><circle cx="559" cy="406.5" r="2.2"/></g>
<g stroke="#c4302b" stroke-width="1.3"><line x1="545" y1="403.5" x2="562" y2="403.5"/><line x1="553.3" y1="400" x2="553.3" y2="407.5"/><line x1="549" y1="400" x2="557.6" y2="400"/><line x1="549" y1="407.5" x2="557.6" y2="407.5"/></g>
<g fill="#2d4f9c"><circle cx="581" cy="373.5" r="2.2"/><circle cx="580" cy="380.7" r="2.2"/><circle cx="577.3" cy="396.5" r="2.2"/><circle cx="585.5" cy="393.3" r="2.2"/></g>
<g stroke="#2d4f9c" stroke-width="1.3"><line x1="572.5" y1="386.3" x2="590" y2="386.3"/><line x1="581.3" y1="380.3" x2="581.3" y2="392.5"/><line x1="577" y1="380.3" x2="585.6" y2="380.3"/><line x1="577" y1="392.5" x2="585.6" y2="392.5"/></g>
</svg>
</body></html>
